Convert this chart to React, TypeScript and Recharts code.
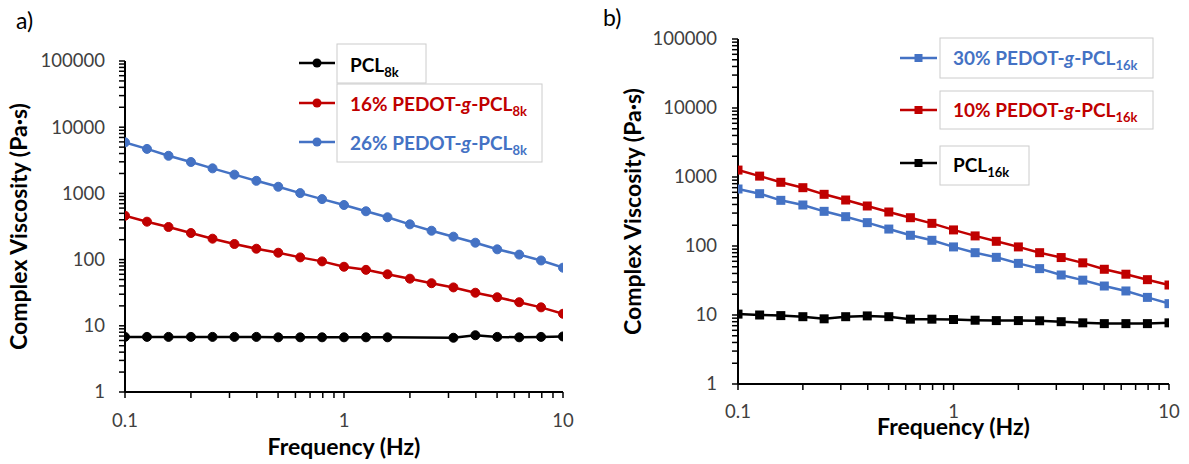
import { LineChart, Line, XAxis, YAxis, Legend, Label } from 'recharts';

// frequency sweep, 10 points per decade
const frequency = [
  0.1, 0.126, 0.158, 0.2, 0.251, 0.316, 0.398, 0.501, 0.631, 0.794,
  1, 1.26, 1.58, 2, 2.51, 3.16, 3.98, 5.01, 6.31, 7.94, 10,
];

// panel a) complex viscosity (Pa·s); null = point missing
const pcl8k = [
  6.8, 6.8, 6.8, 6.8, 6.8, 6.8, 6.8, 6.7, 6.7, 6.7,
  6.7, 6.7, 6.7, null, null, 6.6, 7.2, 6.8, 6.7, 6.8, 6.9,
];
const pedot16_8k = [
  460, 374, 311, 252, 207, 172, 146, 127, 108, 94,
  78, 70, 60, 51.5, 44, 38, 31.6, 27, 22.7, 19, 15.2,
];
const pedot26_8k = [
  5900, 4700, 3700, 2980, 2390, 1920, 1550, 1260, 1010, 820,
  668, 537, 436, 341, 273, 222, 180, 143, 119, 97, 75.5,
];

// panel b)
const pedot30_16k = [
  670, 573, 459, 393, 318, 266, 218, 176, 143, 121,
  97, 80, 68.5, 56, 47, 38, 32, 26.3, 22.3, 18, 14.6,
];
const pedot10_16k = [
  1260, 1030, 838, 700, 561, 464, 380, 311, 257, 213,
  171, 140, 117, 97, 80, 68, 57, 46, 39, 32.5, 27.2,
];
const pcl16k = [
  10.3, 10, 9.8, 9.45, 8.8, 9.45, 9.7, 9.45, 8.7, 8.7,
  8.6, 8.4, 8.3, 8.3, 8.25, 8, 7.7, 7.5, 7.5, 7.5, 7.7,
];

const namesA = ['PCL8k', '16% PEDOT-g-PCL8k', '26% PEDOT-g-PCL8k'];
const namesB = ['30% PEDOT-g-PCL16k', '10% PEDOT-g-PCL16k', 'PCL16k'];

const yMajor = [1, 10, 100, 1000, 10000, 100000];
const xMajor = [0.1, 1, 10];

const yTicks: number[] = [];
yMajor.slice(0, -1).forEach((d) => {
  for (let k = 1; k < 10; k++) yTicks.push(d * k);
});
yTicks.push(100000);
const xTicks: number[] = [];
[0.1, 1].forEach((d) => {
  for (let k = 1; k < 10; k++) xTicks.push(+(d * k).toFixed(2));
});
xTicks.push(10);

const BLUE = '#4472C4';
const RED = '#C00000';
const BLACK = '#000000';
const FONT = 'Lato, "Open Sans", sans-serif';

const toPoints = (vals: (number | null)[]) =>
  frequency
    .map((f, i) => ({ f, v: vals[i] }))
    .filter((p) => p.v !== null);

// "16% PEDOT-g-PCL8k" -> italic g, subscript 8k
const SeriesName = ({ name }: { name: string }) => {
  const m = name.match(/^(.*PCL)(\d+k)$/);
  const head = m ? m[1] : name;
  const sub = m ? m[2] : '';
  const parts = head.split('-g-');
  return (
    <>
      {parts.length > 1 ? (
        <>
          <tspan>{parts[0]}-</tspan>
          <tspan fontStyle="italic">g</tspan>
          <tspan>-{parts[1]}</tspan>
        </>
      ) : (
        <tspan>{head}</tspan>
      )}
      <tspan dy={5} fontSize={13}>{sub}</tspan>
    </>
  );
};

const makeLegend =
  (order: string[], rows: number[], baselines: number[], boxes: number[][], lineX: number[], textX: number, square: boolean) =>
  ({ payload }: any) => {
    const items = [...(payload || [])].sort((a: any, b: any) => order.indexOf(a.value) - order.indexOf(b.value));
    return (
      <svg width={600} height={200} style={{ display: 'block', overflow: 'visible' }}>
        {boxes.map((b, i) => (
          <rect key={i} x={b[0]} y={b[1]} width={b[2]} height={b[3]} fill="#fff" stroke="#cccccc" strokeWidth={1} />
        ))}
        {items.map((p: any, i: number) => {
          const cy = rows[i];
          const mx = (lineX[0] + lineX[1]) / 2;
          return (
            <g key={p.value}>
              <line x1={lineX[0]} x2={lineX[1]} y1={cy} y2={cy} stroke={p.color} strokeWidth={2.5} />
              {square ? (
                <rect x={mx - 4} y={cy - 4} width={8} height={8} fill={p.color} />
              ) : (
                <circle cx={mx} cy={cy} r={4.5} fill={p.color} />
              )}
              <text x={textX} y={baselines[i]} fill={p.color} fontFamily={FONT} fontWeight={700} fontSize={19}>
                <SeriesName name={p.value} />
              </text>
            </g>
          );
        })}
      </svg>
    );
  };

const YTick = (props: any) => {
  const { x, y, payload } = props;
  if (!yMajor.includes(payload.value)) return <g />;
  return (
    <text x={x} y={y} textAnchor="end" dy="0.35em" fill="#404040" fontFamily={FONT} fontSize={18.5}>
      {payload.value}
    </text>
  );
};

const XTick = (props: any) => {
  const { x, y, payload } = props;
  if (!xMajor.includes(payload.value)) return <g />;
  return (
    <text x={x} y={y} textAnchor="middle" dy="0.71em" fill="#404040" fontFamily={FONT} fontSize={18.5}>
      {payload.value}
    </text>
  );
};

const axisLine = { stroke: '#000', strokeWidth: 2 };
const tickLine = { stroke: '#000', strokeWidth: 1.5 };

const xTitle = (dy: number) => (props: any) => {
  const vb = props.viewBox;
  return (
    <text x={vb.x + vb.width / 2} y={vb.y + dy} textAnchor="middle" dy="0.35em" fontFamily={FONT} fontWeight={700} fontSize={23} fill="#000">
      Frequency (Hz)
    </text>
  );
};

const yTitle = (cx: number) => (props: any) => {
  const vb = props.viewBox;
  const cy = vb.y + vb.height / 2;
  return (
    <text transform={`translate(${cx},${cy}) rotate(-90)`} textAnchor="middle" dy="0.35em" fontFamily={FONT} fontWeight={700} fontSize={23} fill="#000">
      Complex Viscosity (Pa·s)
    </text>
  );
};

const circleDot = (color: string) => ({ r: 4.5, fill: color, stroke: color, strokeWidth: 1 });
const squareDot = (color: string) => (props: any) => (
  <rect key={`sq-${props.index}`} x={props.cx - 4.5} y={props.cy - 4.5} width={9} height={9} fill={color} />
);

const App = () => {
  return (
    <div style={{ position: 'absolute', left: 0, top: 0, width: 1189, height: 464, background: '#fff' }}>
      <div style={{ position: 'absolute', left: 16, top: 6, fontFamily: FONT, fontSize: 23, color: '#000' }}>a)</div>
      <div style={{ position: 'absolute', left: 603, top: 3, fontFamily: FONT, fontSize: 23, color: '#000' }}>b)</div>

      <div style={{ position: 'absolute', left: 0, top: 0 }}>
        <LineChart width={590} height={464} margin={{ top: 61, right: 27, left: 0, bottom: 0 }}>
          <XAxis
            dataKey="f"
            type="number"
            scale="log"
            domain={[0.1, 10]}
            allowDataOverflow
            ticks={xTicks}
            interval={0}
            tick={<XTick />}
            tickSize={6}
            tickMargin={16}
            height={72}
            axisLine={axisLine}
            tickLine={tickLine}
          >
            <Label content={xTitle(55)} />
          </XAxis>
          <YAxis
            type="number"
            scale="log"
            domain={[1, 100000]}
            allowDataOverflow
            ticks={yTicks}
            interval={0}
            tick={<YTick />}
            tickSize={6}
            tickMargin={14}
            width={125}
            axisLine={axisLine}
            tickLine={tickLine}
          >
            <Label content={yTitle(19)} />
          </YAxis>
          <Legend
            layout="vertical"
            align="center"
            verticalAlign="middle"
            wrapperStyle={{ left: 0, top: 0, width: 590, height: 200 }}
            content={makeLegend(namesA, [63, 103, 142], [72, 111, 150], [[337, 44, 89, 39], [337, 84, 205, 78]], [299, 335], 350, false)}
          />
          <Line data={toPoints(pcl8k)} dataKey="v" name={namesA[0]} stroke={BLACK} strokeWidth={2.5} dot={circleDot(BLACK)} isAnimationActive={false} />
          <Line data={toPoints(pedot16_8k)} dataKey="v" name={namesA[1]} stroke={RED} strokeWidth={2.5} dot={circleDot(RED)} isAnimationActive={false} />
          <Line data={toPoints(pedot26_8k)} dataKey="v" name={namesA[2]} stroke={BLUE} strokeWidth={2.5} dot={circleDot(BLUE)} isAnimationActive={false} />
        </LineChart>
      </div>

      <div style={{ position: 'absolute', left: 600, top: 0 }}>
        <LineChart width={589} height={464} margin={{ top: 39, right: 20, left: 0, bottom: 0 }}>
          <XAxis
            dataKey="f"
            type="number"
            scale="log"
            domain={[0.1, 10]}
            allowDataOverflow
            ticks={xTicks}
            interval={0}
            tick={<XTick />}
            tickSize={6}
            tickMargin={15}
            height={80}
            axisLine={axisLine}
            tickLine={tickLine}
          >
            <Label content={xTitle(43)} />
          </XAxis>
          <YAxis
            type="number"
            scale="log"
            domain={[1, 100000]}
            allowDataOverflow
            ticks={yTicks}
            interval={0}
            tick={<YTick />}
            tickSize={6}
            tickMargin={15}
            width={138}
            axisLine={axisLine}
            tickLine={tickLine}
          >
            <Label content={yTitle(33)} />
          </YAxis>
          <Legend
            layout="vertical"
            align="center"
            verticalAlign="middle"
            wrapperStyle={{ left: 0, top: 0, width: 589, height: 200 }}
            content={makeLegend(namesB, [58, 110, 163], [65, 117, 172], [[340, 38, 213, 40], [340, 91, 213, 38], [340, 146, 89, 39]], [300, 337], 353, true)}
          />
          <Line data={toPoints(pedot30_16k)} dataKey="v" name={namesB[0]} stroke={BLUE} strokeWidth={2.5} dot={squareDot(BLUE)} isAnimationActive={false} />
          <Line data={toPoints(pedot10_16k)} dataKey="v" name={namesB[1]} stroke={RED} strokeWidth={2.5} dot={squareDot(RED)} isAnimationActive={false} />
          <Line data={toPoints(pcl16k)} dataKey="v" name={namesB[2]} stroke={BLACK} strokeWidth={2.5} dot={squareDot(BLACK)} isAnimationActive={false} />
        </LineChart>
      </div>
    </div>
  );
};

export default App;
